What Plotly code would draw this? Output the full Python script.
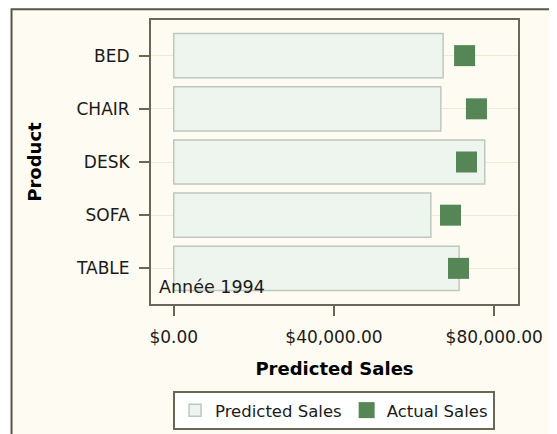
import plotly.graph_objects as go

products = ["BED", "CHAIR", "DESK", "SOFA", "TABLE"]
predicted_sales = [67240, 66670, 77630, 64170, 71230]
actual_sales = [72600, 75560, 73070, 69080, 71080]
x_tick_vals = [0, 40000, 80000]
x_tick_text = ["$0.00", "$40,000.00", "$80,000.00"]

FONT = "DejaVu Sans"
FRAME = "#6B6757"

fig = go.Figure()
fig.add_trace(go.Bar(
    y=products, x=predicted_sales, orientation="h", name="Predicted Sales",
    width=0.83, marker=dict(color="#EEF5EE", line=dict(color="#BFC8BF", width=1.5)),
))
fig.add_trace(go.Scatter(
    y=products, x=actual_sales, mode="markers", name="Actual Sales",
    marker=dict(symbol="square", size=21, color="#568556", line=dict(width=0)),
))

fig.update_layout(
    width=549, height=426,
    margin=dict(l=143, r=39, t=12, b=130, autoexpand=False),
    paper_bgcolor="white", plot_bgcolor="white",
    font=dict(family=FONT, size=17, color="#1a1a1a"),
    showlegend=True,
    legend=dict(orientation="h", x=0.06, y=-0.306, xanchor="left", yanchor="top",
                bgcolor="white", bordercolor=FRAME, borderwidth=2,
                font=dict(family=FONT, size=16.5, color="#1a1a1a")),
    xaxis=dict(range=[-5680, 85930], tickvals=x_tick_vals, ticktext=x_tick_text,
               automargin=False,
               showgrid=False, zeroline=False, showline=True, mirror=True,
               linecolor=FRAME, linewidth=2, ticks="outside", ticklen=10,
               tickcolor=FRAME, tickwidth=2, tickfont=dict(size=17), ticklabelstandoff=7,
               title=dict(text="<b>Predicted Sales</b>", font=dict(size=18, color="black"), standoff=16)),
    yaxis=dict(type="category", categoryarray=products, range=[4.67, -0.67],
               automargin=False,
               showgrid=True, gridcolor="#EEEBD3", gridwidth=1, zeroline=False,
               showline=True, mirror=True, linecolor=FRAME, linewidth=2,
               ticks="outside", ticklen=10, tickcolor=FRAME, tickwidth=2,
               tickfont=dict(size=17), ticklabelstandoff=6,
               title=dict(text="<b>Product</b>", font=dict(size=18, color="black"), standoff=30)),
    shapes=[dict(type="rect", xref="paper", yref="paper", x0=-0.380, x1=1.3, y0=-0.6, y1=1.038,
                 fillcolor="#FEFBF2", line=dict(color="#5A5648", width=2), layer="below")],
    annotations=[dict(text="Année 1994", xref="paper", yref="paper", x=0.017, y=0.018,
                      xanchor="left", yanchor="bottom", showarrow=False,
                      font=dict(family=FONT, size=17.5, color="#1a1a1a"))],
)

fig.write_html("out.html")
